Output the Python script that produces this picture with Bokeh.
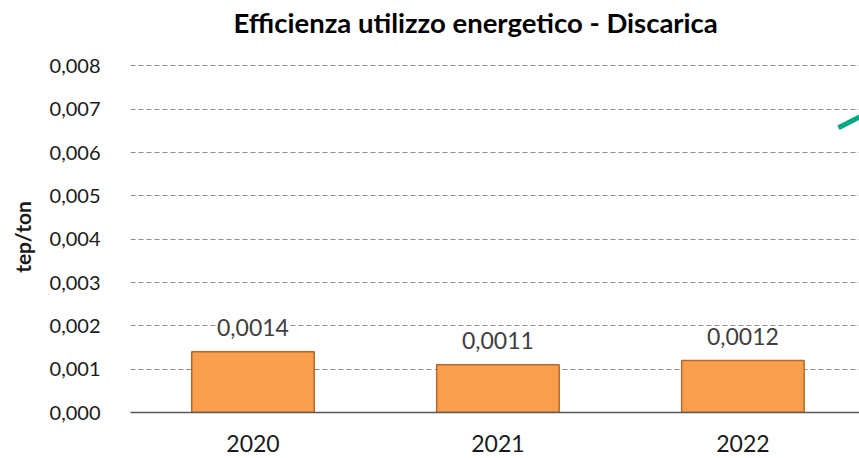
from bokeh.plotting import figure
from bokeh.models import Range1d, FixedTicker, ColumnDataSource, LabelSet, Title
from bokeh.core.properties import value
from bokeh.embed import file_html
from bokeh.resources import INLINE

# ---- data ----
categories = ["2020", "2021", "2022"]
values = [0.0014, 0.0011, 0.0012]
value_labels = ["0,0014", "0,0011", "0,0012"]
y_ticks = [0.000, 0.001, 0.002, 0.003, 0.004, 0.005, 0.006, 0.007, 0.008]
y_tick_labels = ["0,000", "0,001", "0,002", "0,003", "0,004", "0,005", "0,006", "0,007", "0,008"]
# partially visible green trend segment at right edge
trend_x = [2.890, 2.99]
trend_y = [0.00657, 0.00686]

title_text = "Efficienza utilizzo energetico - Discarica"
y_label = "tep/ton"

FONT = "Lato"

x_pos = [i + 0.5 for i in range(len(categories))]

p = figure(width=859, height=458, output_backend="svg", toolbar_location=None,
           x_range=Range1d(0, 2.976), y_range=Range1d(0, 0.0081),
           min_border_left=130, min_border_right=0, min_border_top=61, min_border_bottom=46)
p.outline_line_color = None
p.background_fill_color = "white"

# spacer (nearest the frame), then the main title above it
p.add_layout(Title(text=" ", text_font_size="18px", standoff=0), "above")
p.add_layout(Title(text=title_text, align="left", offset=103, standoff=2,
                   text_font=FONT, text_font_style="bold", text_font_size="27.5px",
                   text_color="#000000"), "above")

# grid
p.xgrid.grid_line_color = None
p.ygrid.grid_line_color = "#8c8c8c"
p.ygrid.grid_line_dash = "5 3"
p.ygrid.grid_line_width = 1
p.ygrid.ticker = FixedTicker(ticks=y_ticks[1:])

# y axis
p.yaxis.ticker = FixedTicker(ticks=y_ticks)
p.yaxis.major_label_overrides = {t: l for t, l in zip(y_ticks, y_tick_labels)}
p.yaxis.axis_line_color = None
p.yaxis.major_tick_line_color = None
p.yaxis.minor_tick_line_color = None
p.yaxis.major_label_standoff = 24
p.yaxis.major_label_text_font = FONT
p.yaxis.major_label_text_font_size = "20px"
p.yaxis.major_label_text_color = "#1a1a1a"
p.yaxis.axis_label = y_label
p.yaxis.axis_label_text_font = FONT
p.yaxis.axis_label_text_font_style = "bold"
p.yaxis.axis_label_text_font_size = "21px"
p.yaxis.axis_label_text_color = "#1a1a1a"
p.yaxis.axis_label_standoff = 12

# x axis
p.xaxis.ticker = FixedTicker(ticks=x_pos)
p.xaxis.major_label_overrides = {x: c for x, c in zip(x_pos, categories)}
p.xaxis.axis_line_color = "#595959"
p.xaxis.axis_line_width = 1.5
p.xaxis.major_tick_line_color = None
p.xaxis.minor_tick_line_color = None
p.xaxis.major_label_standoff = 16
p.xaxis.major_label_text_font = FONT
p.xaxis.major_label_text_font_size = "23px"
p.xaxis.major_label_text_color = "#1a1a1a"

src = ColumnDataSource(dict(x=x_pos, top=values, lab=value_labels))

p.vbar(x="x", top="top", width=0.5, source=src,
       fill_color="#F99E4C", line_color="#B8692A", line_width=1.5)

labels = LabelSet(x="x", y="top", text="lab", source=src, y_offset=24,
                  text_align="center", text_baseline="middle",
                  text_font=value(FONT), text_font_size="23px", text_color="#404040",
                  background_fill_color="white", background_fill_alpha=1.0)
p.add_layout(labels)

p.line(trend_x, trend_y, line_color="#00A884", line_width=5)

open("out.html", "w").write(file_html(p, INLINE))
